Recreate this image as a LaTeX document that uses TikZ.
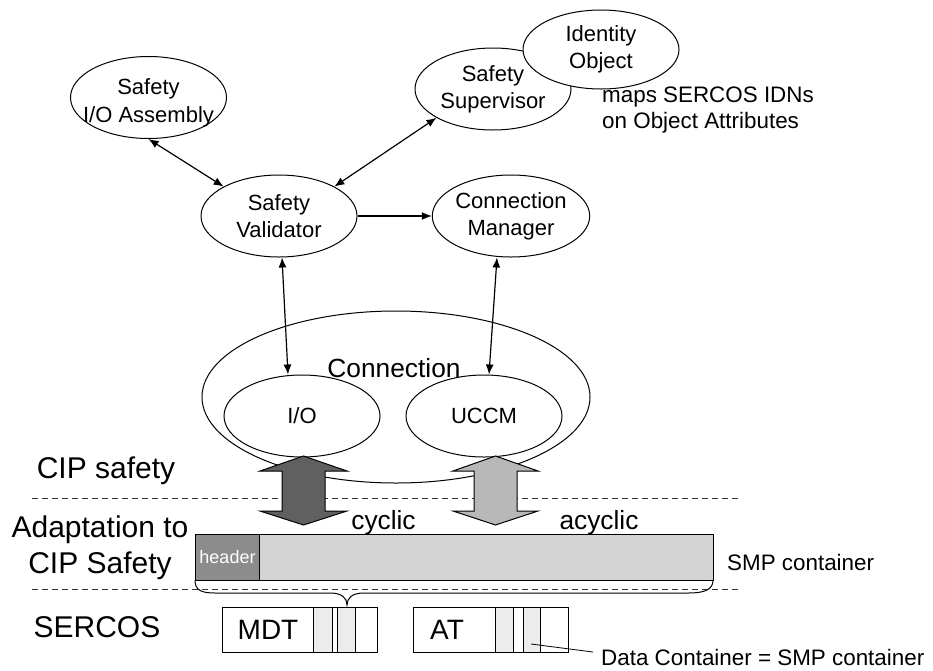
\documentclass[tikz,border=0pt]{standalone}
\usepackage{fontspec}
\setmainfont{Liberation Sans}
\usetikzlibrary{shapes.geometric,arrows.meta}
\definecolor{darkarrow}{HTML}{606060}
\definecolor{lightarrow}{HTML}{B8B8B8}
\definecolor{hdrgray}{HTML}{8C8C8C}
\definecolor{smpgray}{HTML}{D4D4D4}
\definecolor{cellgray}{HTML}{ECECEC}
\begin{document}
\begin{tikzpicture}[x=1pt,y=-1pt,
  obj/.style={ellipse,draw,line width=1pt,fill=white,minimum width=156pt,minimum height=82pt,inner sep=0pt,align=center,font=\fontsize{22}{27}\selectfont},
  conn/.style={line width=1.2pt,{Latex[length=10pt,width=8pt]}-{Latex[length=10pt,width=8pt]}},
  oneway/.style={line width=1.2pt,-{Latex[length=10pt,width=8pt]}},
  layer/.style={font=\fontsize{30}{36}\selectfont,align=center,inner sep=0pt},
  mid/.style={font=\fontsize{26.3}{30}\selectfont,inner sep=0pt},
  note/.style={font=\fontsize{22.4}{26}\selectfont,inner sep=0pt,align=left},
  sep/.style={line width=1pt,dash pattern=on 6pt off 4pt,draw=black!80},
  fat/.style={draw,line width=1pt},
  frame/.style={draw,line width=1pt}
]
\useasboundingbox (0,0) rectangle (933,670);

% top objects
\node[obj] (assy) at (148.5,97.5) {};
\node[obj] (sup) at (493,89) {Safety\\Supervisor};
\node[obj,minimum height=79pt] (ido) at (601,49.5) {Identity\\Object};
\node[obj] (val) at (279,216) {Safety\\Validator};
\node[obj] (mgr) at (511,216) {Connection\\Manager};
\node[font=\fontsize{22}{28}\selectfont,align=center,inner sep=0pt] (assyt) at (148.5,103) {Safety\\I/O Assembly};

\node[note,anchor=west] (maps) at (602,110) {maps SERCOS IDNs\\on Object Attributes};

% connection group
\node[ellipse,draw,line width=1pt,minimum width=388pt,minimum height=172pt,inner sep=0pt] (cbig) at (396,397) {};
\node[obj] (io) at (302,416) {I/O};
\node[obj] (uccm) at (484,416) {UCCM};
\node[mid,anchor=base] (ctext) at (394,377) {Connection};

% connectors
\draw[conn] (assy.south) -- (val.152.6);
\draw[conn] (sup.207.8) -- (val.28.2);
\draw[oneway] (val.east) -- (mgr.west);
\draw[conn] ([xshift=3pt]val.south) -- ([xshift=-14pt]io.north);
\draw[conn] ([xshift=-14pt]mgr.south) -- ([xshift=5pt]uccm.north);

% separators
\draw[sep] (32,498) -- (740,498);
\draw[sep] (32,589) -- (740,589);

% SMP container
\draw[frame,fill=smpgray] (259,534) rectangle (713,580);
\node[frame,fill=hdrgray,minimum width=64pt,minimum height=46pt,inner sep=0pt,anchor=north west,text=white,font=\fontsize{18}{20}\selectfont] (hdr) at (195,534) {header};
\node[note,anchor=west] (smp) at (727,562) {SMP container};

% fat arrows
\draw[fat,fill=darkarrow] (303.5,456) -- (347,471) -- (325,471) -- (325,511) -- (347,511) -- (303.5,525) -- (260,511) -- (282,511) -- (282,471) -- (260,471) -- cycle;
\draw[fat,fill=lightarrow] (495.5,456) -- (538,471) -- (517,471) -- (517,511) -- (538,511) -- (495.5,525) -- (453,511) -- (474,511) -- (474,471) -- (453,471) -- cycle;
\node[mid,anchor=base] (cyc) at (383.5,529) {cyclic};
\node[mid,anchor=base] (acyc) at (599,529) {acyclic};

% brace
\draw[line width=1pt] (195,580) .. controls (195,590) and (201,593) .. (215,593) -- (330,593) .. controls (342,593) and (347,598) .. (347,605) .. controls (347,598) and (352,593) .. (364,593) -- (688,593) .. controls (706,593) and (713,589) .. (713,580);

% layer labels
\node[layer] (lcip) at (106,471) {CIP safety};
\node[layer] (ladapt) at (100,548) {Adaptation to\\CIP Safety};
\node[layer] (lser) at (97,627) {SERCOS};

% telegrams
\draw[frame,fill=cellgray] (313,607) rectangle (332,652);
\draw[frame,fill=cellgray] (337,607) rectangle (355,652);
\draw[frame] (222,607) rectangle (377,652);
\node[font=\fontsize{28}{30}\selectfont,inner sep=0pt] (mdt) at (268,630) {MDT};

\draw[frame,fill=cellgray] (495,607) rectangle (513,652);
\draw[frame,fill=cellgray] (523,607) rectangle (540,652);
\draw[frame] (413,607) rectangle (568,652);
\node[font=\fontsize{28}{30}\selectfont,inner sep=0pt] (at) at (447,630) {AT};

\coordinate (dcpt) at (531,644);
\node[note,anchor=base west] (dc) at (601,665) {Data Container = SMP container};
\draw[line width=0.8pt] (dcpt) -- (593,652);
\end{tikzpicture}
\end{document}
